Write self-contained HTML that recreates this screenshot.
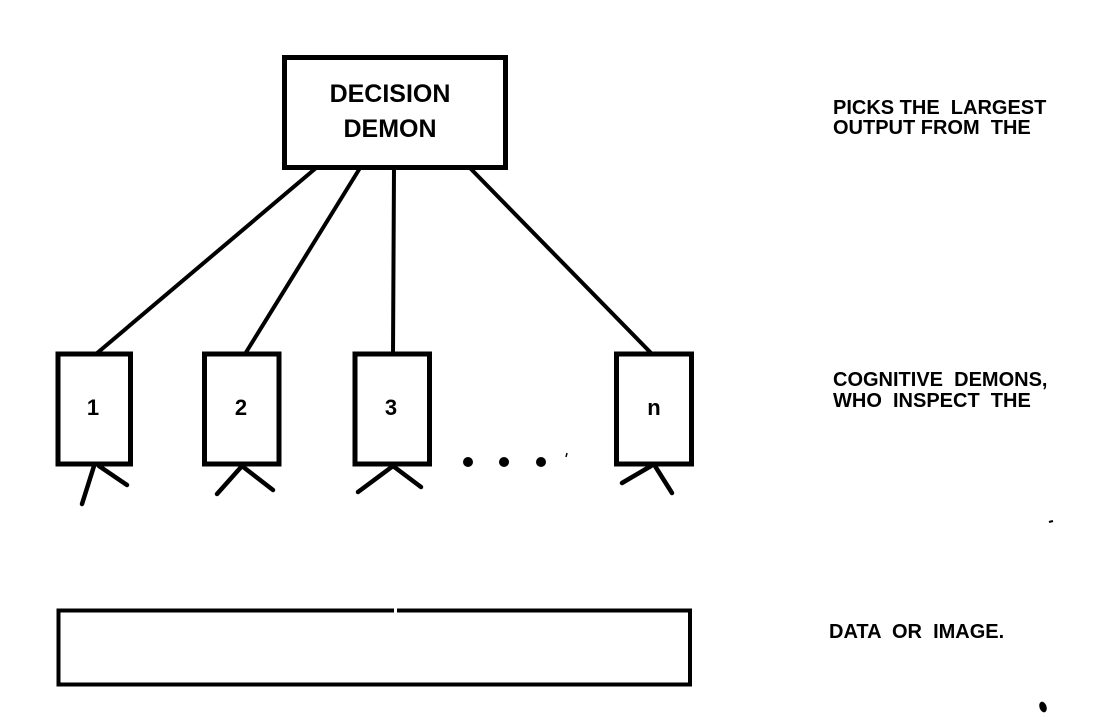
<!DOCTYPE html>
<html>
<head>
<meta charset="utf-8">
<style>
  html, body { margin: 0; padding: 0; background: #fff; }
  body { width: 1100px; height: 722px; overflow: hidden; }
  svg { display: block; }
  text { font-family: "Liberation Sans", "DejaVu Sans", sans-serif; font-weight: bold; fill: #000; }
</style>
</head>
<body>
<svg width="1100" height="722" viewBox="0 0 1100 722" xmlns="http://www.w3.org/2000/svg">
  <rect x="0" y="0" width="1100" height="722" fill="#fff"/>

  <!-- Decision demon box -->
  <rect x="284.5" y="57.5" width="221" height="110" fill="none" stroke="#000" stroke-width="5"/>
  <text x="390" y="102" font-size="25" text-anchor="middle">DECISION</text>
  <text x="390" y="137" font-size="25" text-anchor="middle">DEMON</text>

  <!-- connecting lines -->
  <g stroke="#000" stroke-width="4" stroke-linecap="round" fill="none">
    <line x1="316" y1="168" x2="96" y2="354"/>
    <line x1="360" y1="168" x2="245" y2="354"/>
    <line x1="394" y1="168" x2="393" y2="354"/>
    <line x1="470" y1="168" x2="652" y2="354"/>
  </g>

  <!-- cognitive demon boxes -->
  <g fill="#fff" stroke="#000" stroke-width="5">
    <rect x="58" y="354" width="72.5" height="110"/>
    <rect x="204.5" y="354" width="74.5" height="110"/>
    <rect x="355" y="354" width="74.5" height="110"/>
    <rect x="616.5" y="354" width="75" height="110"/>
  </g>

  <text x="93" y="415" font-size="22" text-anchor="middle">1</text>
  <text x="241" y="415" font-size="22" text-anchor="middle">2</text>
  <text x="391" y="415" font-size="22" text-anchor="middle">3</text>
  <text x="654" y="415" font-size="22" text-anchor="middle">n</text>

  <!-- legs -->
  <g stroke="#000" stroke-width="4.5" stroke-linecap="round" fill="none">
    <line x1="94" y1="466" x2="82" y2="504"/>
    <line x1="99" y1="466" x2="127" y2="485"/>
    <line x1="242" y1="466" x2="217" y2="494"/>
    <line x1="242" y1="466" x2="273" y2="490"/>
    <line x1="393" y1="466" x2="358" y2="492"/>
    <line x1="393" y1="466" x2="421" y2="487"/>
    <line x1="651" y1="466" x2="622" y2="483"/>
    <line x1="655" y1="466" x2="672" y2="493"/>
  </g>

  <!-- dots -->
  <circle cx="468" cy="462" r="5" fill="#000"/>
  <circle cx="504" cy="462" r="5" fill="#000"/>
  <circle cx="541" cy="462" r="5" fill="#000"/>
  <line x1="566" y1="457" x2="567" y2="453" stroke="#000" stroke-width="1.5"/>

  <!-- data / image box -->
  <rect x="58.5" y="610.5" width="631.5" height="74" fill="none" stroke="#000" stroke-width="4"/>
  <line x1="394" y1="610.5" x2="397" y2="610.5" stroke="#fff" stroke-width="5"/>

  <!-- right side labels -->
  <text x="833" y="114" font-size="20" xml:space="preserve">PICKS THE  LARGEST</text>
  <text x="833" y="134" font-size="20" xml:space="preserve">OUTPUT FROM  THE</text>

  <text x="833" y="386" font-size="20" xml:space="preserve">COGNITIVE  DEMONS,</text>
  <text x="833" y="407" font-size="20" xml:space="preserve">WHO  INSPECT  THE</text>

  <text x="829" y="638" font-size="20" xml:space="preserve">DATA  OR  IMAGE.</text>

  <!-- stray marks -->
  <line x1="1049" y1="522" x2="1053" y2="521" stroke="#000" stroke-width="2"/>
  <ellipse cx="1043" cy="707" rx="3.5" ry="5.5" transform="rotate(-20 1043 707)" fill="#000"/>
</svg>
</body>
</html>
